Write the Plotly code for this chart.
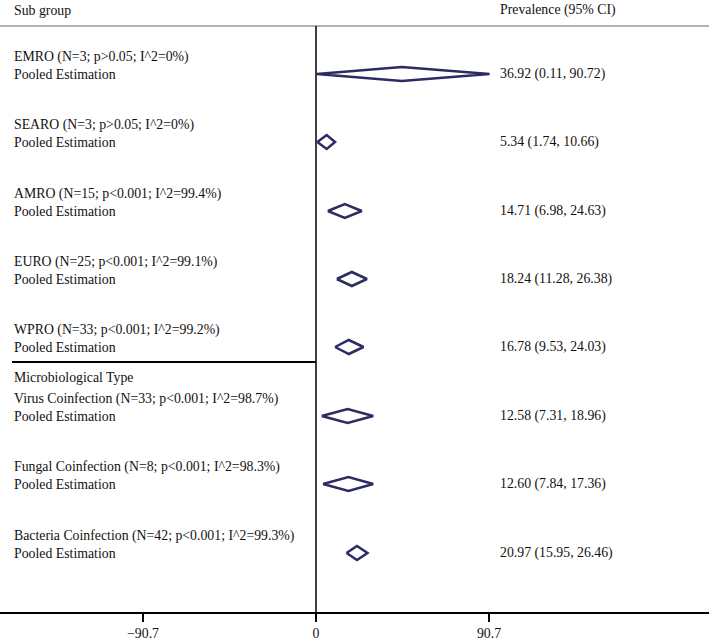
import plotly.graph_objects as go

# ------------------------------------------------------------
# data
# ------------------------------------------------------------
groups = ["EMRO", "SEARO", "AMRO", "EURO", "WPRO",
          "Virus Coinfection", "Fungal Coinfection", "Bacteria Coinfection"]
n_studies = [3, 3, 15, 25, 33, 33, 8, 42]
p_values = ["p>0.05", "p>0.05", "p<0.001", "p<0.001", "p<0.001",
            "p<0.001", "p<0.001", "p<0.001"]
i_squared = ["0%", "0%", "99.4%", "99.1%", "99.2%", "98.7%", "98.3%", "99.3%"]

# values printed in the right column
est = [36.92, 5.34, 14.71, 18.24, 16.78, 12.58, 12.60, 20.97]
ci_lo = [0.11, 1.74, 6.98, 11.28, 9.53, 7.31, 7.84, 15.95]
ci_hi = [90.72, 10.66, 24.63, 26.38, 24.03, 18.96, 17.36, 26.46]

# diamonds as drawn in the picture
dia_mid = [45.0, 5.6, 15.1, 18.8, 17.2, 16.6, 17.0, 21.5]
dia_lo = [0.4, 0.7, 6.2, 10.9, 10.0, 3.0, 3.7, 16.0]
dia_hi = [91.0, 10.0, 24.0, 26.7, 24.9, 30.0, 30.0, 27.0]

tick_vals = [-90.7, 0, 90.7]
tick_text = ["\u221290.7", "0", "90.7"]

# ------------------------------------------------------------
# layout helpers
# ------------------------------------------------------------
W, H = 709, 644
PLOT_H = 612                      # y units == pixels of plot area
ROW_Y = [74, 142, 211, 279, 347, 416, 484, 553]
LINE = 17
HALF_H = 7
NAVY = "#2c2b62"
FONT = dict(family="Liberation Serif, Times New Roman, serif", size=13.8, color="#111111")
PX_PER_UNIT = 1.907
ZERO_PX = 316
x_range = [-ZERO_PX / PX_PER_UNIT, (W - ZERO_PX) / PX_PER_UNIT]


def esc(s):
    return s.replace("<", "&lt;").replace(">", "&gt;")


fig = go.Figure()

# diamonds
xs, ys = [], []
for lo, mid, hi, y in zip(dia_lo, dia_mid, dia_hi, ROW_Y):
    xs += [lo, mid, hi, mid, lo, None]
    ys += [y, y - HALF_H, y, y + HALF_H, y, None]
fig.add_trace(go.Scatter(
    x=xs, y=ys, mode="lines",
    line=dict(color=NAVY, width=2.5),
    hoverinfo="skip", showlegend=False,
))

annotations = []
def add_text(text, x_px, y):
    annotations.append(dict(
        text=text, x=x_px / W, xref="paper", y=y, yref="y",
        xanchor="left", yanchor="middle", showarrow=False, font=FONT,
    ))

add_text("Sub group", 12, 10)
add_text("Prevalence (95% CI)", 498, 10)
add_text("Microbiological Type", 12, 377)

for g, n, p, i2, e, lo, hi, y in zip(groups, n_studies, p_values, i_squared,
                                     est, ci_lo, ci_hi, ROW_Y):
    add_text(esc(f"{g} (N={n}; {p}; I^2={i2})"), 12, y - LINE)
    add_text("Pooled Estimation", 12, y)
    add_text(f"{e:.2f} ({lo:.2f}, {hi:.2f})", 498, y)

shapes = [
    # header rule
    dict(type="line", xref="paper", yref="y", x0=0, x1=1, y0=26, y1=26,
         line=dict(color="#9a9a9a", width=1.5)),
    # zero line
    dict(type="line", xref="x", yref="y", x0=0, x1=0, y0=26, y1=PLOT_H,
         line=dict(color="black", width=1.5)),
    # separator before microbiological type
    dict(type="line", xref="paper", yref="y", x0=12 / W, x1=ZERO_PX / W,
         y0=362, y1=362, line=dict(color="black", width=2)),
]

fig.update_layout(
    width=W, height=H,
    margin=dict(l=0, r=0, t=0, b=H - PLOT_H),
    plot_bgcolor="white", paper_bgcolor="white",
    showlegend=False,
    annotations=annotations,
    shapes=shapes,
)
fig.update_xaxes(
    range=x_range, tickvals=tick_vals, ticktext=tick_text,
    showgrid=False, zeroline=False,
    showline=True, linecolor="black", linewidth=1.5,
    ticks="outside", ticklen=8, tickwidth=1.5, tickcolor="black",
    tickfont=FONT,
)
fig.update_yaxes(
    range=[PLOT_H, 0], visible=False, showgrid=False, zeroline=False,
)

fig.write_html("out.html", config={"displayModeBar": False},
               post_script="document.body.style.margin='0';")
